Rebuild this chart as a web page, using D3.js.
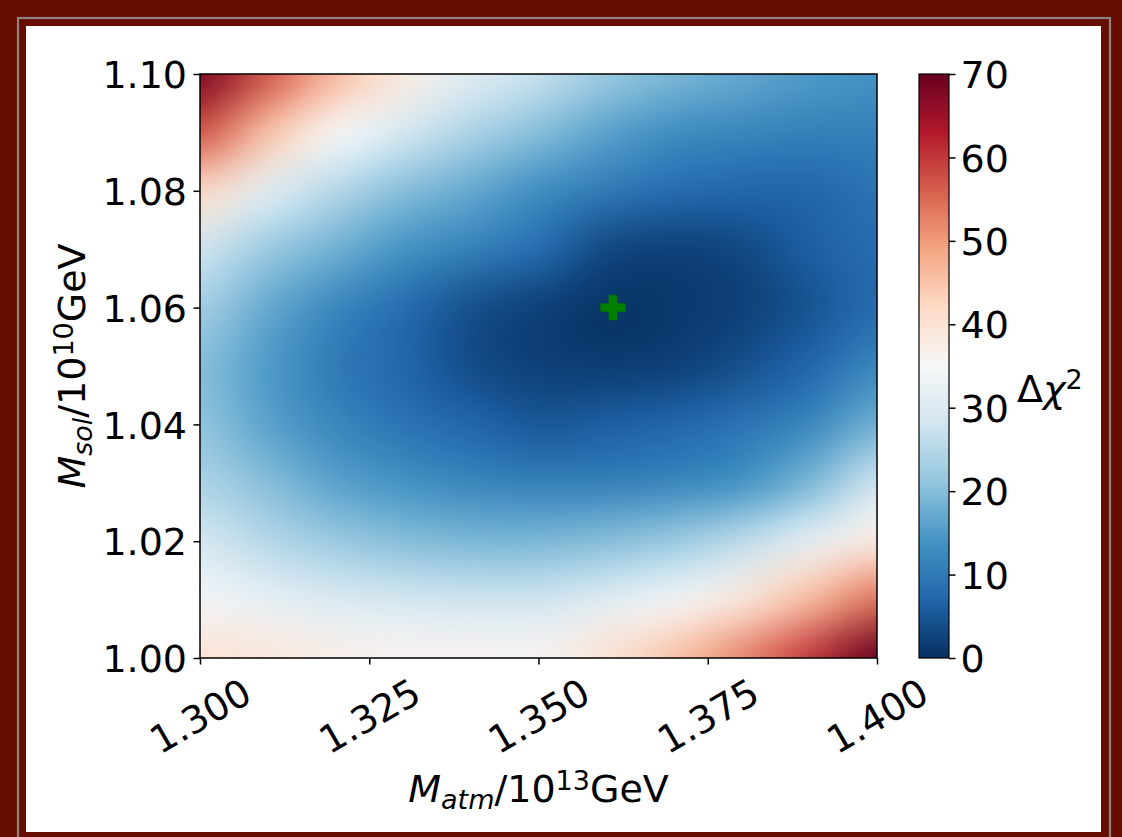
<!DOCTYPE html>
<html>
<head>
<meta charset="utf-8">
<script src="https://cdn.jsdelivr.net/npm/d3@7/dist/d3.min.js"></script>
<style>
  html, body { margin: 0; padding: 0; background: #670c00; }
  svg { display: block; }
  text { font-family: "DejaVu Sans", sans-serif; fill: #000; }
</style>
</head>
<body>
<svg id="chart" width="1122" height="837"></svg>
<script>
// ---- data ----
const matmValues = [1.30, 1.31, 1.32, 1.33, 1.34, 1.35, 1.36, 1.37, 1.38, 1.39, 1.40]; // x, 10^13 GeV
const msolValues = [1.10, 1.09, 1.08, 1.07, 1.06, 1.05, 1.04, 1.03, 1.02, 1.01, 1.00]; // y (rows, top to bottom), 10^10 GeV
const row110 = [68, 57, 46, 38, 31, 27, 22, 19, 17, 15, 14];
const row109 = [57, 45, 35, 29, 24, 20, 16, 13, 12, 11, 11];
const row108 = [42, 31, 25, 20, 17, 13, 10, 8, 7, 7, 9];
const row107 = [28, 22, 18, 14, 11, 8, 3, 2, 3, 6, 8];
const row106 = [23, 17, 12, 8, 4, 2, 0.5, 1, 2, 4.5, 8];
const row105 = [20, 15, 10, 7, 3.5, 2, 1.5, 2, 4, 7, 12];
const row104 = [21, 16, 12, 9, 7, 5, 6, 7, 9, 12, 18];
const row103 = [24, 20, 16, 14, 12, 11, 11, 12, 14, 19, 28];
const row102 = [29, 25, 22, 20, 19, 19, 20, 22, 26, 32, 38];
const row101 = [34, 32, 30, 29, 28, 28, 31, 34, 39, 46, 54];
const row100 = [40, 39, 37, 36, 36, 36, 40, 45, 52, 60, 70];
const chi2Rows = [row110, row109, row108, row107, row106, row105, row104, row103, row102, row101, row100];
const bestFit = [1.361, 1.06];
const xTicks = [1.300, 1.325, 1.350, 1.375, 1.400];
const yTicks = [1.00, 1.02, 1.04, 1.06, 1.08, 1.10];
const cbTicks = [0, 10, 20, 30, 40, 50, 60, 70];
const chi2Domain = [0, 70];

// RdBu_r colour map (ColorBrewer anchors, linear)
const rdbu = ["#67001f","#b2182b","#d6604d","#f4a582","#fddbc7","#f7f7f7","#d1e5f0","#92c5de","#4393c3","#2166ac","#053061"];
const rdbuR = rdbu.slice().reverse();
const color = d3.scaleLinear()
  .domain(d3.range(rdbuR.length).map(i => chi2Domain[0] + i * (chi2Domain[1] - chi2Domain[0]) / (rdbuR.length - 1)))
  .range(rdbuR)
  .interpolate(d3.interpolateRgb)
  .clamp(true);

const svg = d3.select("#chart");

// ---- frame ----
svg.append("rect").attr("x", 0).attr("y", 0).attr("width", 1122).attr("height", 837).attr("fill", "#670c00");
svg.append("rect").attr("x", 18).attr("y", 18).attr("width", 1092).attr("height", 840)
  .attr("fill", "none").attr("stroke", "#8c8380").attr("stroke-width", 2.2);
svg.append("rect").attr("x", 26).attr("y", 26).attr("width", 1075).attr("height", 806).attr("fill", "#ffffff");

// ---- scales ----
const plot = { left: 200, right: 877, top: 74, bottom: 658 };
const x = d3.scaleLinear().domain([1.30, 1.40]).range([plot.left, plot.right]);
const y = d3.scaleLinear().domain([1.00, 1.10]).range([plot.bottom, plot.top]);

// ---- heatmap (one pixel per read value, smoothed by the renderer) ----
const nx = matmValues.length, ny = msolValues.length;
const small = document.createElement("canvas");
small.width = nx; small.height = ny;
const sctx = small.getContext("2d");
const img = sctx.createImageData(nx, ny);
chi2Rows.forEach((row, j) => {
  row.forEach((v, i) => {
    const c = d3.rgb(color(v));
    const k = (j * nx + i) * 4;
    img.data[k] = c.r; img.data[k + 1] = c.g; img.data[k + 2] = c.b; img.data[k + 3] = 255;
  });
});
sctx.putImageData(img, 0, 0);

const dxStep = matmValues[1] - matmValues[0];
const dyStep = msolValues[0] - msolValues[1];
const pw = plot.right - plot.left, ph = plot.bottom - plot.top;
const big = document.createElement("canvas");
big.width = pw; big.height = ph;
const bctx = big.getContext("2d");
bctx.imageSmoothingEnabled = true;
bctx.imageSmoothingQuality = "high";
const x0 = x(d3.min(matmValues) - dxStep / 2), x1 = x(d3.max(matmValues) + dxStep / 2);
const y0 = y(d3.max(msolValues) + dyStep / 2), y1 = y(d3.min(msolValues) - dyStep / 2);
bctx.drawImage(small, x0 - plot.left, y0 - plot.top, x1 - x0, y1 - y0);

svg.append("image")
  .attr("href", big.toDataURL())
  .attr("x", plot.left).attr("y", plot.top)
  .attr("width", pw).attr("height", ph)
  .attr("preserveAspectRatio", "none");

// best fit marker
svg.append("path")
  .attr("d", d3.symbol().type(d3.symbolCross).size(340)())
  .attr("transform", `translate(${x(bestFit[0])},${y(bestFit[1])})`)
  .attr("fill", "#008000").attr("stroke", "#0a6e0a").attr("stroke-width", 0.6);

// frame of axes
svg.append("rect").attr("x", plot.left).attr("y", plot.top)
  .attr("width", pw).attr("height", ph)
  .attr("fill", "none").attr("stroke", "#000").attr("stroke-width", 1.5);

// ---- axes ----
const fs = 38;
const xAxis = svg.append("g").attr("transform", `translate(0,${plot.bottom})`)
  .call(d3.axisBottom(x).tickValues(xTicks).tickFormat(d3.format(".3f")).tickSize(6.5).tickSizeOuter(0));
xAxis.select(".domain").remove();
xAxis.selectAll(".tick line").attr("stroke", "#000").attr("stroke-width", 1.5);
xAxis.selectAll(".tick text")
  .attr("font-size", fs).attr("font-family", "DejaVu Sans")
  .attr("text-anchor", "middle").attr("y", 0).attr("dy", "0.35em")
  .attr("transform", "translate(0,58) rotate(-30)");

const yAxis = svg.append("g").attr("transform", `translate(${plot.left},0)`)
  .call(d3.axisLeft(y).tickValues(yTicks).tickFormat(d3.format(".2f")).tickSize(6.5).tickPadding(6.5).tickSizeOuter(0));
yAxis.select(".domain").remove();
yAxis.selectAll(".tick line").attr("stroke", "#000").attr("stroke-width", 1.5);
yAxis.selectAll(".tick text").attr("font-size", fs).attr("font-family", "DejaVu Sans").attr("dy", "0.36em");

// axis labels
const xl = svg.append("text").attr("x", (plot.left + plot.right) / 2).attr("y", 802)
  .attr("text-anchor", "middle").attr("font-size", fs);
xl.append("tspan").attr("font-style", "italic").text("M");
xl.append("tspan").attr("font-style", "italic").attr("font-size", 27).attr("dy", 7).text("atm");
xl.append("tspan").attr("dy", -7).text("/10");
xl.append("tspan").attr("font-size", 27).attr("dy", -12).text("13");
xl.append("tspan").attr("dy", 12).text("GeV");

const yl = svg.append("text").attr("transform", `translate(85,${(plot.top + plot.bottom) / 2}) rotate(-90)`)
  .attr("text-anchor", "middle").attr("font-size", fs);
yl.append("tspan").attr("font-style", "italic").text("M");
yl.append("tspan").attr("font-style", "italic").attr("font-size", 27).attr("dy", 7).text("sol");
yl.append("tspan").attr("dy", -7).text("/10");
yl.append("tspan").attr("font-size", 27).attr("dy", -12).text("10");
yl.append("tspan").attr("dy", 12).text("GeV");

// ---- colorbar ----
const cb = { left: 919, right: 949, top: 74, bottom: 658 };
const cy = d3.scaleLinear().domain(chi2Domain).range([cb.bottom, cb.top]);
const grad = svg.append("defs").append("linearGradient").attr("id", "cbgrad")
  .attr("x1", 0).attr("y1", 1).attr("x2", 0).attr("y2", 0);
color.domain().forEach((d, i) => {
  grad.append("stop").attr("offset", (d - chi2Domain[0]) / (chi2Domain[1] - chi2Domain[0])).attr("stop-color", color.range()[i]);
});
svg.append("rect").attr("x", cb.left).attr("y", cb.top).attr("width", cb.right - cb.left).attr("height", cb.bottom - cb.top)
  .attr("fill", "url(#cbgrad)").attr("stroke", "#000").attr("stroke-width", 1.2);
const cAxis = svg.append("g").attr("transform", `translate(${cb.right},0)`)
  .call(d3.axisRight(cy).tickValues(cbTicks).tickFormat(d3.format("d")).tickSize(6.5).tickPadding(5).tickSizeOuter(0));
cAxis.select(".domain").remove();
cAxis.selectAll(".tick line").attr("stroke", "#000").attr("stroke-width", 1.5);
cAxis.selectAll(".tick text").attr("font-size", fs).attr("font-family", "DejaVu Sans").attr("dy", "0.36em");

const cl = svg.append("text").attr("x", 1017).attr("y", 402).attr("font-size", fs);
cl.append("tspan").text("Δ");
cl.append("tspan").attr("font-style", "italic").text("χ");
cl.append("tspan").attr("font-size", 27).attr("dy", -13).text("2");
</script>
</body>
</html>
